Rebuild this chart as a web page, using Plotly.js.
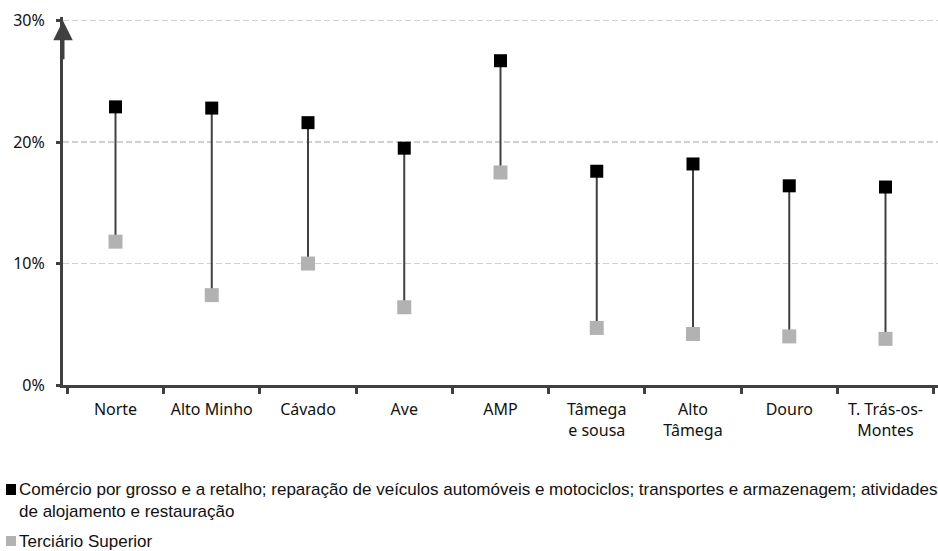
<!DOCTYPE html>
<html>
<head>
<meta charset="utf-8">
<script src="https://cdn.plot.ly/plotly-3.0.1.min.js"></script>
<style>html,body{margin:0;padding:0;background:#fff;}#chart{width:938px;height:551px;}</style>
</head>
<body>
<div id="chart"></div>
<script>
const categories = ["Norte", "Alto Minho", "Cávado", "Ave", "AMP", "Tâmega<br>e sousa", "Alto<br>Tâmega", "Douro", "T. Trás-os-<br>Montes"];
const comercio = [22.9, 22.8, 21.6, 19.5, 26.7, 17.6, 18.2, 16.4, 16.3];
const terciario = [11.8, 7.4, 10.0, 6.4, 17.5, 4.7, 4.2, 4.0, 3.8];
const yTickVals = [0, 10, 20, 30];
const yTickText = ["0%", "10%", "20%", "30%"];
const nameComercio = "Comércio por grosso e a retalho; reparação de veículos automóveis e motociclos; transportes e armazenagem; atividades<br>de alojamento e restauração";
const nameTerciario = "Terciário Superior";
const colorComercio = "#000000";
const colorTerciario = "#b2b2b2";

const stemX = [], stemY = [];
categories.forEach((c, i) => { stemX.push(c, c, null); stemY.push(comercio[i], terciario[i], null); });

const font = "Noto Sans, Open Sans, sans-serif";
const traces = [
  {x: stemX, y: stemY, type: "scatter", mode: "lines", line: {color: "#404040", width: 2}, hoverinfo: "skip", showlegend: false},
  {x: categories, y: terciario, type: "scatter", mode: "markers", name: nameTerciario,
   marker: {symbol: "square", size: 14, color: colorTerciario}, showlegend: false},
  {x: categories, y: comercio, type: "scatter", mode: "markers", name: nameComercio,
   marker: {symbol: "square", size: 13, color: colorComercio}, showlegend: false}
];

const W = 875, H = 368, L = 63, T = 17;
const px = X => (X - L) / W;          // pixel x -> paper x
const py = Y => (T + H - Y) / H;      // pixel y -> paper y
const legFont = {family: "Liberation Sans Narrow, Liberation Sans, sans-serif", size: 17, color: "#111"};
const layout = {
  width: 938, height: 551,
  margin: {l: L, r: 0, t: T, b: 166},
  paper_bgcolor: "#fff", plot_bgcolor: "#fff",
  showlegend: false,
  font: {family: font, size: 16, color: "#111"},
  xaxis: {
    type: "category", showline: true, linecolor: "#404040", linewidth: 3,
    ticks: "outside", tickson: "boundaries", ticklen: 6, tickwidth: 3, tickcolor: "#404040",
    showgrid: false, zeroline: false, ticklabelstandoff: 8,
    tickfont: {family: font, size: 16, color: "#111"}
  },
  yaxis: {
    range: [0, 30.3], tickvals: yTickVals, ticktext: yTickText,
    showline: true, linecolor: "#404040", linewidth: 3,
    ticks: "outside", ticklen: 4, tickwidth: 3, tickcolor: "#404040",
    showgrid: true, gridcolor: "#d0d0d0", griddash: "6px,3px", gridwidth: 1.5,
    zeroline: false, ticklabelstandoff: 8,
    tickfont: {family: font, size: 16, color: "#111"}
  },
  shapes: [
    {type: "rect", xref: "paper", yref: "paper", x0: px(6), x1: px(16), y0: py(495), y1: py(484),
     fillcolor: colorComercio, line: {width: 0}},
    {type: "rect", xref: "paper", yref: "paper", x0: px(6), x1: px(16), y0: py(546), y1: py(536),
     fillcolor: colorTerciario, line: {width: 0}}
  ],
  annotations: [
    {xref: "paper", yref: "y", x: 0, y: 30, ax: 0, ay: 40, text: "", showarrow: true,
     arrowhead: 2, arrowsize: 1.3, arrowwidth: 3, arrowcolor: "#404040", standoff: 0},
    {xref: "paper", yref: "paper", x: px(17), y: py(500.5), xanchor: "left", yanchor: "middle",
     align: "left", text: nameComercio, showarrow: false, font: legFont},
    {xref: "paper", yref: "paper", x: px(17), y: py(541), xanchor: "left", yanchor: "middle",
     align: "left", text: nameTerciario, showarrow: false, font: legFont}
  ]
};
Plotly.newPlot("chart", traces, layout, {displayModeBar: false, staticPlot: true});
</script>
</body>
</html>
